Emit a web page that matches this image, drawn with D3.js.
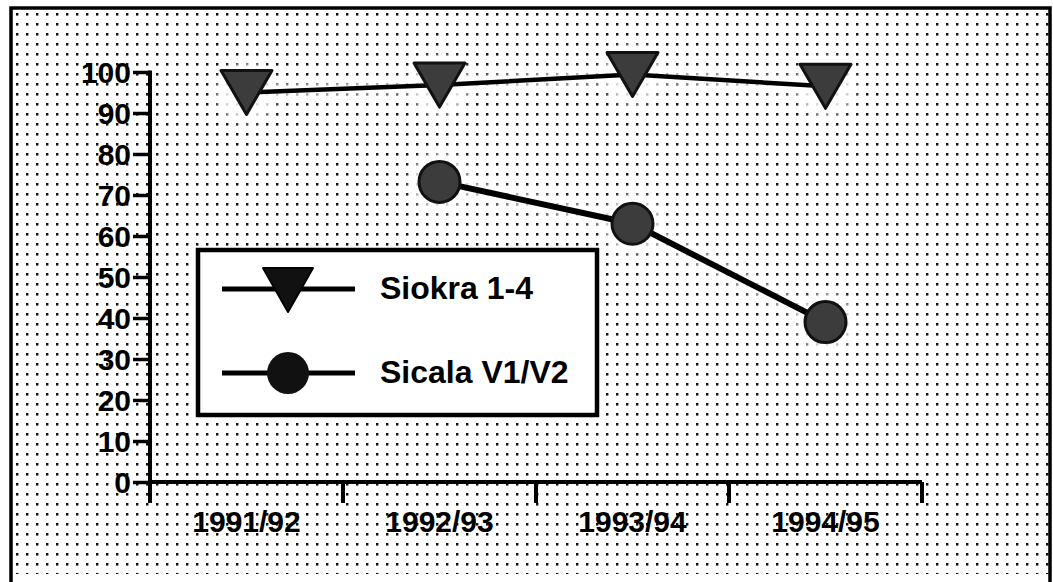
<!DOCTYPE html>
<html>
<head>
<meta charset="utf-8">
<script src="https://cdn.jsdelivr.net/npm/d3@7"></script>
<style>
  html, body { margin: 0; padding: 0; background: #fff; }
  svg { display: block; }
  text { font-family: "Liberation Sans", Arial, Helvetica, sans-serif; font-weight: bold; fill: #000; }
</style>
</head>
<body>
<svg id="chart" width="1053" height="582"></svg>
<script>
// ---- data ----
const categories = ["1991/92", "1992/93", "1993/94", "1994/95"];
const siokraValues = [95, 96.8, 99.4, 96.5];
const sicalaValues = [null, 73.2, 63, 39];
const yTicks = [0, 10, 20, 30, 40, 50, 60, 70, 80, 90, 100];
const seriesNames = ["Siokra 1-4", "Sicala V1/V2"];

const svg = d3.select("#chart");
const W = 1053, H = 582;

// background dot pattern
const defs = svg.append("defs");
const pat = defs.append("pattern")
  .attr("id", "dots").attr("patternUnits", "userSpaceOnUse")
  .attr("width", 10).attr("height", 10).attr("x", 16).attr("y", 13);
pat.append("rect").attr("x", 0).attr("y", 0).attr("width", 2.4).attr("height", 2.6).attr("fill", "#111");

const blur = defs.append("filter").attr("id", "halo").attr("x", "-30%").attr("y", "-30%").attr("width", "160%").attr("height", "160%");
blur.append("feGaussianBlur").attr("stdDeviation", 4);

svg.append("rect").attr("x", 0).attr("y", 0).attr("width", W).attr("height", H).attr("fill", "#fff");
svg.append("rect").attr("x", 11).attr("y", 8).attr("width", 1039).attr("height", 566)
  .attr("fill", "url(#dots)");
// frame
svg.append("rect").attr("x", 11).attr("y", 8).attr("width", 1039).attr("height", 600)
  .attr("fill", "none").attr("stroke", "#000").attr("stroke-width", 3.5);

// scales
const x = d3.scaleBand().domain(categories).range([150, 922]).padding(0);
const y = d3.scaleLinear().domain([0, 100]).range([482, 72]);
const cx = d => x(d) + x.bandwidth() / 2;

// y axis
const yAxis = svg.append("g").attr("transform", "translate(150,0)")
  .call(d3.axisLeft(y).tickValues(yTicks).tickSize(17).tickPadding(2).tickFormat(d3.format("d")));
yAxis.select(".domain").remove();
yAxis.selectAll(".tick line").attr("stroke", "#000").attr("stroke-width", 3.5);
yAxis.selectAll(".tick text").attr("font-size", 30).attr("dy", "0.36em")
  .attr("font-family", "'Liberation Sans', Arial, sans-serif").attr("font-weight", "bold");
svg.append("line").attr("x1", 150).attr("x2", 150).attr("y1", y(100) - 1.5).attr("y2", 503)
  .attr("stroke", "#000").attr("stroke-width", 4);

// x axis
const xAxis = svg.append("g").attr("transform", `translate(0,${y(0)})`)
  .call(d3.axisBottom(x).tickSize(0).tickPadding(0));
xAxis.select(".domain").remove();
xAxis.selectAll(".tick text").attr("font-size", 30).attr("dy", "1.68em")
  .attr("font-family", "'Liberation Sans', Arial, sans-serif").attr("font-weight", "bold");
svg.append("line").attr("x1", 150).attr("x2", 922).attr("y1", y(0)).attr("y2", y(0))
  .attr("stroke", "#000").attr("stroke-width", 4);
const boundaries = categories.map(c => x(c)).concat([x(categories[categories.length - 1]) + x.bandwidth()]);
svg.append("g").selectAll("line").data(boundaries).join("line")
  .attr("x1", d => d).attr("x2", d => d).attr("y1", y(0)).attr("y2", 503)
  .attr("stroke", "#000").attr("stroke-width", 4);

// series
const siokra = categories.map((c, i) => ({ c, v: siokraValues[i] })).filter(d => d.v != null);
const sicala = categories.map((c, i) => ({ c, v: sicalaValues[i] })).filter(d => d.v != null);
const line = d3.line().x(d => cx(d.c)).y(d => y(d.v));

// halos
const haloG = svg.append("g").attr("filter", "url(#halo)").attr("opacity", 0.85);
haloG.append("path").attr("d", line(siokra)).attr("fill", "none").attr("stroke", "#fff").attr("stroke-width", 14);
haloG.append("path").attr("d", line(sicala)).attr("fill", "none").attr("stroke", "#fff").attr("stroke-width", 16);
haloG.selectAll("circle.h").data(sicala).join("circle").attr("cx", d => cx(d.c)).attr("cy", d => y(d.v)).attr("r", 30).attr("fill", "#fff");
haloG.selectAll("circle.h2").data(siokra).join("circle").attr("cx", d => cx(d.c)).attr("cy", d => y(d.v)).attr("r", 30).attr("fill", "#fff");

svg.append("path").attr("d", line(siokra)).attr("fill", "none").attr("stroke", "#000").attr("stroke-width", 4.5);
svg.append("path").attr("d", line(sicala)).attr("fill", "none").attr("stroke", "#000").attr("stroke-width", 6);

function triPath(cxp, cyp, w, h) {
  return `M${cxp - w / 2},${cyp - h / 2}L${cxp + w / 2},${cyp - h / 2}L${cxp},${cyp + h / 2}Z`;
}
svg.append("g").selectAll("path").data(siokra).join("path")
  .attr("d", d => triPath(cx(d.c), y(d.v), 51, 44))
  .attr("fill", "#3c3c3c").attr("stroke", "#111").attr("stroke-width", 3).attr("stroke-linejoin", "round");
svg.append("g").selectAll("circle").data(sicala).join("circle")
  .attr("cx", d => cx(d.c)).attr("cy", d => y(d.v)).attr("r", 20.5)
  .attr("fill", "#3c3c3c").attr("stroke", "#111").attr("stroke-width", 3);

// legend
const lg = svg.append("g");
lg.append("rect").attr("x", 198).attr("y", 250).attr("width", 399).attr("height", 165)
  .attr("fill", "#fff").attr("stroke", "#000").attr("stroke-width", 4.5);
const legendRows = [
  { name: seriesNames[0], y: 289, type: "tri" },
  { name: seriesNames[1], y: 373, type: "circle" }
];
legendRows.forEach(r => {
  lg.append("line").attr("x1", 222).attr("x2", 355).attr("y1", r.y).attr("y2", r.y)
    .attr("stroke", "#000").attr("stroke-width", 5);
  if (r.type === "tri") {
    lg.append("path").attr("d", triPath(288, r.y + 1, 50, 44)).attr("fill", "#111").attr("stroke", "#000").attr("stroke-width", 2).attr("stroke-linejoin", "round");
  } else {
    lg.append("circle").attr("cx", 288).attr("cy", r.y).attr("r", 21).attr("fill", "#111");
  }
  lg.append("text").attr("x", 380).attr("y", r.y + 10).attr("font-size", 32).text(r.name);
});
</script>
</body>
</html>
